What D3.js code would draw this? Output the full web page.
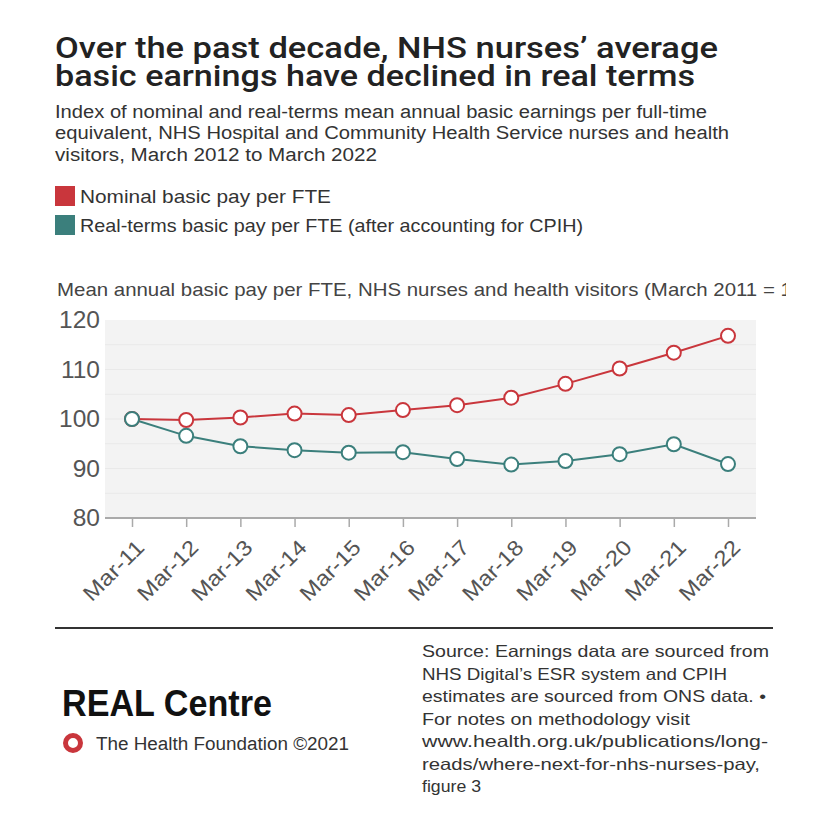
<!DOCTYPE html>
<html><head><meta charset="utf-8">
<script src="https://cdn.jsdelivr.net/npm/d3@7"></script>
<style>
html,body{margin:0;padding:0;background:#fff;}
svg{display:block;}
</style></head>
<body>
<svg id="c" width="828" height="839"></svg>
<script>
const categories = ["Mar-11","Mar-12","Mar-13","Mar-14","Mar-15","Mar-16","Mar-17","Mar-18","Mar-19","Mar-20","Mar-21","Mar-22"];
const nominal = [100, 99.8, 100.3, 101.1, 100.8, 101.8, 102.8, 104.3, 107.1, 110.2, 113.4, 116.8];
const realTerms = [100, 96.6, 94.5, 93.7, 93.2, 93.3, 91.9, 90.8, 91.5, 92.9, 94.9, 90.9];
const yTicks = [80, 90, 100, 110, 120];
const seriesNames = ["Nominal basic pay per FTE", "Real-terms basic pay per FTE (after accounting for CPIH)"];
const colors = ["#c9363c", "#3b7f7c"];

const svg = d3.select("#c");
const FONT = "'Liberation Sans', Arial, sans-serif";
const TFONT = "Roboto, 'Liberation Sans', Arial, sans-serif";

function lines(parent, arr, x, y0, dy, widths, attrs) {
  const t = parent.append("text");
  Object.entries(attrs).forEach(([k, v]) => t.attr(k, v));
  arr.forEach((s, i) => {
    const ts = t.append("tspan").attr("x", x).attr("y", y0 + i * dy).text(s);
    if (widths && widths[i]) ts.attr("textLength", widths[i]).attr("lengthAdjust", "spacingAndGlyphs");
  });
  return t;
}

// Title
lines(svg, ["Over the past decade, NHS nurses’ average", "basic earnings have declined in real terms"],
  55, 58, 28, [663, 640], {"font-family": TFONT, "font-weight": 500, "font-size": 29, "fill": "#222"});

lines(svg, ["Index of nominal and real-terms mean annual basic earnings per full-time",
 "equivalent, NHS Hospital and Community Health Service nurses and health",
 "visitors, March 2012 to March 2022"], 55, 117.5, 21.5, [652, 674, 322],
 {"font-family": FONT, "font-size": 18, "fill": "#333"});

// Legend
const legendW = [251, 503];
seriesNames.forEach((n, i) => {
  const y = 186 + i * 29;
  svg.append("rect").attr("x", 55).attr("y", y).attr("width", 20).attr("height", 20).attr("fill", colors[i]);
  svg.append("text").attr("x", 80).attr("y", y + 16.5).attr("font-family", FONT).attr("font-size", 18.5)
    .attr("fill", "#333").attr("textLength", legendW[i]).attr("lengthAdjust", "spacingAndGlyphs").text(n);
});

// axis title clipped, horizontally stretched so the part before "100)" matches the reference width
svg.append("clipPath").attr("id", "clipT").append("rect").attr("x", 0).attr("y", 260).attr("width", 786).attr("height", 50);
const axisTitle = "Mean annual basic pay per FTE, NHS nurses and health visitors (March 2011 = 100)";
const at = svg.append("text").attr("font-family", FONT).attr("font-size", 17.5).attr("fill", "#444")
  .attr("x", 0).attr("y", 0).text(axisTitle);
const idx = axisTitle.indexOf("100)");
const sx = 724 / at.node().getSubStringLength(0, idx);
at.remove();
svg.append("g").attr("clip-path", "url(#clipT)")
  .append("text").attr("transform", `translate(57,296) scale(${sx},1)`)
  .attr("font-family", FONT).attr("font-size", 17.5).attr("fill", "#444").text(axisTitle);

// Plot
const plotL = 105, plotR = 756, plotT = 320, plotB = 518;
const x = d3.scalePoint().domain(categories).range([132, 728]);
const y = d3.scaleLinear().domain([80, 120]).range([plotB, plotT]);

svg.append("rect").attr("x", plotL).attr("y", plotT).attr("width", plotR - plotL).attr("height", plotB - plotT).attr("fill", "#f3f3f3");
const grid = d3.range(85, 120, 5);
svg.append("g").selectAll("line").data(grid).join("line")
  .attr("x1", plotL).attr("x2", plotR).attr("y1", d => y(d)).attr("y2", d => y(d))
  .attr("stroke", "#e9e9e9").attr("stroke-width", 1);

// y axis
const yAxis = svg.append("g").attr("transform", `translate(${plotL},0)`)
  .call(d3.axisLeft(y).tickValues(yTicks).tickSize(0).tickPadding(5));
yAxis.select(".domain").remove();
yAxis.selectAll("text").attr("font-family", FONT).attr("font-size", 24.5).attr("fill", "#555");

// x axis
const xAxis = svg.append("g").attr("transform", `translate(0,${plotB})`)
  .call(d3.axisBottom(x).tickSize(9).tickPadding(4));
xAxis.select(".domain").attr("d", `M${plotL},0H${plotR}`).attr("stroke", "#aaa").attr("stroke-width", 2);
xAxis.selectAll(".tick line").attr("stroke", "#aaa").attr("stroke-width", 1.5);
xAxis.selectAll("text").attr("font-family", FONT).attr("font-size", 21.5).attr("fill", "#555")
  .attr("textLength", 76).attr("lengthAdjust", "spacingAndGlyphs")
  .attr("text-anchor", "end").attr("x", -12.5).attr("y", 31).attr("dx", 0).attr("dy", 0)
  .attr("transform", "rotate(-45)");

// lines
const series = [nominal, realTerms];
const line = d3.line().x((d, i) => x(categories[i])).y(d => y(d));
series.forEach((s, k) => {
  svg.append("path").datum(s).attr("d", line).attr("fill", "none").attr("stroke", colors[k]).attr("stroke-width", 2);
});
series.forEach((s, k) => {
  svg.append("g").selectAll("circle").data(s).join("circle")
    .attr("cx", (d, i) => x(categories[i])).attr("cy", d => y(d)).attr("r", 7)
    .attr("fill", "#fff").attr("stroke", colors[k]).attr("stroke-width", 2);
});

// footer
svg.append("line").attr("x1", 55).attr("x2", 773).attr("y1", 628).attr("y2", 628).attr("stroke", "#333").attr("stroke-width", 2);
svg.append("text").attr("x", 62).attr("y", 716).attr("font-family", FONT).attr("font-weight", "bold")
  .attr("font-size", 37).attr("fill", "#111").attr("textLength", 210).attr("lengthAdjust", "spacingAndGlyphs").text("REAL Centre");
svg.append("circle").attr("cx", 73).attr("cy", 743).attr("r", 7.5).attr("fill", "none").attr("stroke", "#c9363c").attr("stroke-width", 5);
svg.append("text").attr("x", 96).attr("y", 750).attr("font-family", FONT).attr("font-size", 18).attr("fill", "#333")
  .attr("textLength", 253).attr("lengthAdjust", "spacingAndGlyphs").text("The Health Foundation ©2021");

lines(svg, ["Source: Earnings data are sourced from",
 "NHS Digital’s ESR system and CPIH",
 "estimates are sourced from ONS data. •",
 "For notes on methodology visit",
 "www.health.org.uk/publications/long-",
 "reads/where-next-for-nhs-nurses-pay,",
 "figure 3"], 422, 657, 22.5, [347, 305, 344, 268, 346, 338, 59],
 {"font-family": FONT, "font-size": 16.5, "fill": "#333"});
</script>
</body></html>
